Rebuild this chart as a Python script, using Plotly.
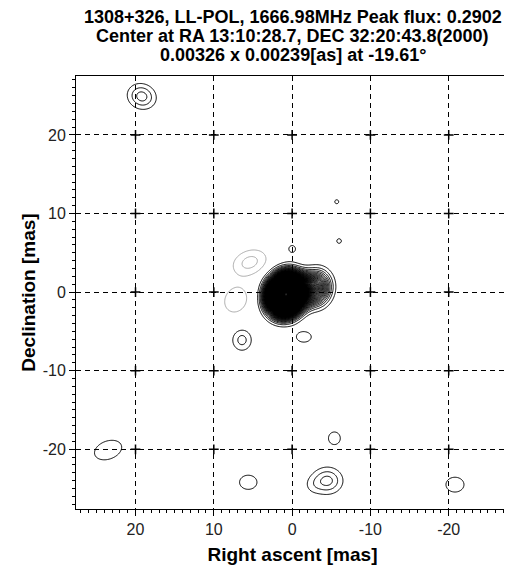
import numpy as np
import plotly.graph_objects as go

# ---------------- text ----------------
TITLE_LINES = [
    "1308+326, LL-POL, 1666.98MHz Peak flux: 0.2902",
    "Center at RA 13:10:28.7, DEC 32:20:43.8(2000)",
    "0.00326 x 0.00239[as] at -19.61°",
]
X_LABEL = "Right ascent [mas]"
Y_LABEL = "Declination [mas]"
TICK_VALUES = [-20, -10, 0, 10, 20]
TICK_TEXT = ["-20", "-10", "0", "10", "20"]
RA_RANGE = [27.6, -27.7]
DEC_RANGE = [-27.6, 27.5]

# ---------------- contour levels (Jy/beam) ----------------
PEAK_FLUX = 0.2902
LEVEL_STEP = 0.0012
LOW_LEVEL_COUNT = 6          # levels drawn over the whole field
NEG_LEVEL_LOW = -0.0024
NEG_LEVEL_HIGH = -0.0012

# ---------------- Gaussian components ----------------
# RA offset (mas, east positive), Dec offset (mas), peak (Jy/beam),
# FWHM major / minor (mas), position angle of major axis (deg, N through E)
COMP_RA = [0.8, -1.3, -3.1, 5.4, 7.2, 19.2, 0.0, -5.7, -6.0, -1.5, 6.4, 23.5, 5.6, -5.4, -4.5, -2.6, -20.8]
COMP_DEC = [-0.3, 0.2, 0.5, 3.8, -1.0, 24.9, 5.5, 11.5, 6.5, -5.7, -6.1, -20.1, -24.2, -18.6, -24.0, -24.6, -24.5]
COMP_PEAK = [0.262, 0.030, 0.018, -0.00290, -0.00190, 0.0042, 0.00138, 0.00126, 0.00128, 0.00168, 0.00288,
             0.0018, 0.0018, 0.00156, 0.00408, 0.00096, 0.00168]
COMP_MAJ = [3.0, 2.6, 3.0, 3.8, 3.9, 2.8, 1.9, 1.9, 1.9, 2.7, 2.3, 4.7, 2.9, 2.6, 3.0, 2.0, 3.3]
COMP_MIN = [2.6, 2.2, 2.5, 2.6, 3.3, 2.4, 1.9, 1.9, 1.9, 1.9, 2.1, 3.0, 2.35, 2.45, 2.6, 2.0, 2.7]
COMP_PA = [-20, -20, -10, -70, -30, 70, 0, 0, 0, 90, 0, -70, 90, 0, 90, 0, 90]

# ---------------- build the map from the components ----------------
ra = np.arange(-28.0, 28.0001, 0.1)
dec = np.arange(-28.0, 28.0001, 0.1)
RA, DEC = np.meshgrid(ra, dec)
Z = np.zeros_like(RA)
for x0, y0, a, fmaj, fmin, pa in zip(COMP_RA, COMP_DEC, COMP_PEAK, COMP_MAJ, COMP_MIN, COMP_PA):
    t = np.radians(pa)
    dx = RA - x0
    dy = DEC - y0
    u = dx * np.sin(t) + dy * np.cos(t)
    v = dx * np.cos(t) - dy * np.sin(t)
    smaj = fmaj / 2.3548
    smin = fmin / 2.3548
    Z += a * np.exp(-0.5 * ((u / smaj) ** 2 + (v / smin) ** 2))

# window round the bright core for the dense upper levels
ci = np.where(np.abs(ra) <= 9.0)[0]
cj = np.where(np.abs(dec) <= 9.0)[0]
Zc = Z[cj[0]:cj[-1] + 1, ci[0]:ci[-1] + 1]

black = [[0, "black"], [1, "black"]]
fig = go.Figure()
fig.add_trace(go.Contour(
    x=ra, y=dec, z=Z.astype(np.float32),
    contours=dict(start=LEVEL_STEP, end=LEVEL_STEP * LOW_LEVEL_COUNT, size=LEVEL_STEP, coloring="lines"),
    colorscale=black, line=dict(width=1), showscale=False, hoverinfo="skip",
))
fig.add_trace(go.Contour(
    x=ra[ci], y=dec[cj], z=Zc.astype(np.float32),
    contours=dict(start=LEVEL_STEP * (LOW_LEVEL_COUNT + 1), end=PEAK_FLUX, size=LEVEL_STEP, coloring="lines"),
    colorscale=black, line=dict(width=1), showscale=False, hoverinfo="skip",
))
fig.add_trace(go.Contour(
    x=ra[ci], y=dec[cj], z=np.minimum(Zc, 0).astype(np.float32),
    contours=dict(start=NEG_LEVEL_LOW, end=NEG_LEVEL_HIGH, size=LEVEL_STEP, coloring="lines"),
    colorscale=[[0, "#a8a8a8"], [1, "#a8a8a8"]],
    line=dict(width=1), showscale=False, hoverinfo="skip",
))
# grid crossing marks
gx = [a for a in TICK_VALUES for b in TICK_VALUES]
gy = [b for a in TICK_VALUES for b in TICK_VALUES]
fig.add_trace(go.Scatter(
    x=gx, y=gy, mode="markers",
    marker=dict(symbol="cross-thin", size=7, line=dict(width=1.5, color="black")),
    hoverinfo="skip", showlegend=False,
))

FONT = "Liberation Sans, Arial, sans-serif"
axis_common = dict(
    tickvals=TICK_VALUES, ticktext=TICK_TEXT, automargin=False,
    showgrid=True, gridcolor="black", gridwidth=1.3, griddash="5px,4px",
    zeroline=False, showline=True, linecolor="black", linewidth=1, mirror=True,
    ticks="outside", ticklen=6, tickcolor="black",
    minor=dict(dtick=1, ticks="outside", ticklen=3, tickcolor="black", showgrid=False),
    tickfont=dict(family=FONT, size=16, color="#222"),
    title_font=dict(family=FONT, size=19, color="black"),
)
fig.update_xaxes(range=RA_RANGE, title_text="<b>" + X_LABEL + "</b>", title_standoff=10, **axis_common)
fig.update_yaxes(range=DEC_RANGE, title_text="<b>" + Y_LABEL + "</b>", title_standoff=2, **axis_common)

# the page body adds an 8 px margin, so the figure is 8 px smaller and offset
PAGE_OFFSET = 8
TOP = 76 - PAGE_OFFSET
annotations = []
for i, line in enumerate(TITLE_LINES):
    annotations.append(dict(
        text="<b>" + line + "</b>", xref="paper", yref="paper",
        x=0.5, y=1 + (TOP - (17 + 19 * i - PAGE_OFFSET)) / 433.0, xanchor="center", yanchor="middle",
        showarrow=False, font=dict(family=FONT, size=18, color="black"),
    ))

fig.update_layout(
    width=512 - PAGE_OFFSET, height=566 - PAGE_OFFSET,
    margin=dict(l=76 - PAGE_OFFSET, r=3, t=TOP, b=57),
    paper_bgcolor="white", plot_bgcolor="white",
    showlegend=False, annotations=annotations,
)
fig.write_html("out.html")
